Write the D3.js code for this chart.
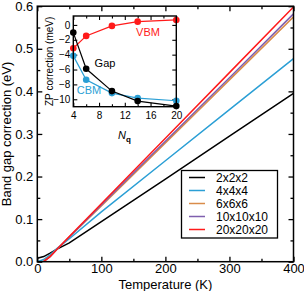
<!DOCTYPE html>
<html>
<head>
<meta charset="utf-8">
<script src="https://cdn.jsdelivr.net/npm/d3@7"></script>
<style>
  body { margin: 0; background: #fff; }
  text { font-family: "Liberation Sans", Arial, sans-serif; }
</style>
</head>
<body>
<div id="chart"></div>
<script>
// main panel: band gap correction vs temperature
const temps = [0, 10, 20, 30, 50, 100, 200, 300, 400]
const grid2 = [0.008, 0.012, 0.020, 0.029, 0.044, 0.094, 0.194, 0.295, 0.395]
const grid4 = [0.000, 0.005, 0.016, 0.030, 0.054, 0.117, 0.237, 0.357, 0.477]
const grid6 = [null, 0.002, 0.013, 0.028, 0.058, 0.131, 0.279, 0.427, 0.575]
const grid10 = [null, 0.001, 0.012, 0.028, 0.058, 0.133, 0.283, 0.432, 0.582]
const grid20 = [null, 0.000, 0.012, 0.028, 0.059, 0.136, 0.290, 0.444, 0.598]
const seriesNames = ['2x2x2', '4x4x4', '6x6x6', '10x10x10', '20x20x20']
const seriesColors = ['#000000', '#2b9fd5', '#d98c4a', '#7f5fae', '#ff1a1a']

// inset: zero-point correction vs Nq
const nq = [4, 6, 10, 14, 20]
const vbm = [-3.13, -1.48, -0.13, 0.44, 0.67]
const cbm = [-4.16, -7.38, -9.17, -9.84, -10.2]
const gap = [-1.03, -5.9, -8.9, -10.25, -10.92]

const W = 304, H = 291
const svg = d3.select('#chart').append('svg').attr('width', W).attr('height', H)

const x = d3.scaleLinear().domain([0, 400]).range([37.3, 293.5])
const y = d3.scaleLinear().domain([0, 0.6]).range([261.7, 6.2])

// clip for data lines
svg.append('clipPath').attr('id', 'clip')
    .append('rect')
    .attr('x', x(0)).attr('y', y(0.6))
    .attr('width', x(400) - x(0)).attr('height', y(0) - y(0.6))

const line = d3.line()
    .defined((d) => d[1] != null)
    .x((d) => x(d[0]))
    .y((d) => y(d[1]))

const allSeries = [grid2, grid4, grid6, grid10, grid20]
svg.append('g').attr('clip-path', 'url(#clip)')
    .selectAll('path')
    .data(allSeries)
    .enter()
    .append('path')
    .attr('d', (s) => line(temps.map((t, i) => [t, s[i]])))
    .attr('fill', 'none')
    .attr('stroke', (_, i) => seriesColors[i])
    .attr('stroke-width', 1.5)

// axes with inward ticks
const axisG = svg.append('g')
const drawTicks = (g, axis, transform) => g.append('g').attr('transform', transform).call(axis)

const yTicks = d3.range(0, 0.61, 0.1)
const yMinor = d3.range(0.05, 0.6, 0.1)
const xTicks = d3.range(0, 401, 100)
const xMinor = d3.range(50, 400, 100)

drawTicks(axisG, d3.axisLeft(y).tickValues(yTicks).tickSize(-5).tickPadding(4).tickFormat(d3.format('.1f')), `translate(${x(0)},0)`)
drawTicks(axisG, d3.axisLeft(y).tickValues(yMinor).tickSize(-3).tickFormat(''), `translate(${x(0)},0)`)
drawTicks(axisG, d3.axisRight(y).tickValues(yTicks).tickSize(-5).tickFormat(''), `translate(${x(400)},0)`)
drawTicks(axisG, d3.axisRight(y).tickValues(yMinor).tickSize(-3).tickFormat(''), `translate(${x(400)},0)`)
drawTicks(axisG, d3.axisBottom(x).tickValues(xTicks).tickSize(-5).tickPadding(2.5).tickFormat(d3.format('d')), `translate(0,${y(0)})`)
drawTicks(axisG, d3.axisBottom(x).tickValues(xMinor).tickSize(-3).tickFormat(''), `translate(0,${y(0)})`)
drawTicks(axisG, d3.axisTop(x).tickValues(xTicks).tickSize(-5).tickFormat(''), `translate(0,${y(0.6)})`)
drawTicks(axisG, d3.axisTop(x).tickValues(xMinor).tickSize(-3).tickFormat(''), `translate(0,${y(0.6)})`)

axisG.selectAll('.domain').remove()
axisG.selectAll('line').attr('stroke', '#000').attr('stroke-width', 1.3)
axisG.selectAll('text').attr('font-size', 13).attr('fill', '#000')
    .style('font-family', '"Liberation Sans", Arial, sans-serif')

svg.append('rect')
    .attr('x', x(0)).attr('y', y(0.6))
    .attr('width', x(400) - x(0)).attr('height', y(0) - y(0.6))
    .attr('fill', 'none').attr('stroke', '#000').attr('stroke-width', 1.5)

svg.append('text')
    .attr('x', (x(0) + x(400)) / 2).attr('y', 289)
    .attr('text-anchor', 'middle').attr('font-size', 13)
    .text('Temperature (K)')

svg.append('text')
    .attr('transform', `translate(11,${(y(0) + y(0.6)) / 2}) rotate(-90)`)
    .attr('text-anchor', 'middle').attr('font-size', 13)
    .text('Band gap correction (eV)')

// legend
const legend = svg.append('g')
legend.append('rect')
    .attr('x', 181.5).attr('y', 170.5).attr('width', 96).attr('height', 67.5)
    .attr('fill', '#fff').attr('stroke', '#000').attr('stroke-width', 1.3)
seriesNames.forEach((name, i) => {
  const yy = 177.5 + i * 13
  legend.append('line')
      .attr('x1', 189).attr('x2', 205).attr('y1', yy).attr('y2', yy)
      .attr('stroke', seriesColors[i]).attr('stroke-width', 1.5)
  legend.append('text')
      .attr('x', 216).attr('y', yy + 4.2).attr('font-size', 12)
      .text(name)
})

// inset
const ix = d3.scaleLinear().domain([4, 20]).range([73.3, 176.3])
const iy = d3.scaleLinear().domain([-11, 1.2]).range([106.7, 16])
const inset = svg.append('g')
inset.append('rect')
    .attr('x', ix(4)).attr('y', iy(1.2))
    .attr('width', ix(20) - ix(4)).attr('height', iy(-11) - iy(1.2))
    .attr('fill', '#fff')

const iAxes = inset.append('g')
const iyTicks = [0, -2, -4, -6, -8, -10]
const ixTicks = [4, 8, 12, 16, 20]
const ixMinor = [6, 10, 14, 18]
drawTicks(iAxes, d3.axisLeft(iy).tickValues(iyTicks).tickSize(-4).tickPadding(3).tickFormat(d3.format('d')), `translate(${ix(4)},0)`)
drawTicks(iAxes, d3.axisRight(iy).tickValues(iyTicks).tickSize(-4).tickFormat(''), `translate(${ix(20)},0)`)
drawTicks(iAxes, d3.axisBottom(ix).tickValues(ixTicks).tickSize(-4).tickPadding(5).tickFormat(d3.format('d')), `translate(0,${iy(-11)})`)
drawTicks(iAxes, d3.axisBottom(ix).tickValues(ixMinor).tickSize(-2.5).tickFormat(''), `translate(0,${iy(-11)})`)
drawTicks(iAxes, d3.axisTop(ix).tickValues(ixTicks).tickSize(-4).tickFormat(''), `translate(0,${iy(1.2)})`)
drawTicks(iAxes, d3.axisTop(ix).tickValues(ixMinor).tickSize(-2.5).tickFormat(''), `translate(0,${iy(1.2)})`)
iAxes.selectAll('.domain').remove()
iAxes.selectAll('line').attr('stroke', '#000').attr('stroke-width', 1.1)
iAxes.selectAll('text').attr('font-size', 10).attr('fill', '#000')
    .style('font-family', '"Liberation Sans", Arial, sans-serif')

const iLine = d3.line().x((d) => ix(d[0])).y((d) => iy(d[1]))
const insetSeries = [
  {vals: vbm, color: '#ff1a1a'},
  {vals: cbm, color: '#2b9fd5'},
  {vals: gap, color: '#000000'},
]
insetSeries.forEach((s) => {
  const pts = nq.map((n, i) => [n, s.vals[i]])
  inset.append('path')
      .attr('d', iLine(pts))
      .attr('fill', 'none').attr('stroke', s.color).attr('stroke-width', 1.2)
  inset.selectAll(null)
      .data(pts)
      .enter()
      .append('circle')
      .attr('cx', (d) => ix(d[0])).attr('cy', (d) => iy(d[1]))
      .attr('r', 3.3).attr('fill', s.color)
})

inset.append('rect')
    .attr('x', ix(4)).attr('y', iy(1.2))
    .attr('width', ix(20) - ix(4)).attr('height', iy(-11) - iy(1.2))
    .attr('fill', 'none').attr('stroke', '#000').attr('stroke-width', 1.4)

inset.append('text').attr('x', 148).attr('y', 36).attr('text-anchor', 'middle')
    .attr('font-size', 11).attr('fill', '#ff1a1a').text('VBM')
inset.append('text').attr('x', 105).attr('y', 67).attr('text-anchor', 'middle')
    .attr('font-size', 11).attr('fill', '#000').text('Gap')
inset.append('text').attr('x', 89).attr('y', 94).attr('text-anchor', 'middle')
    .attr('font-size', 11).attr('fill', '#2b9fd5').text('CBM')

inset.append('text')
    .attr('transform', `translate(53,${(iy(-11) + iy(1.2)) / 2}) rotate(-90)`)
    .attr('text-anchor', 'middle').attr('font-size', 10)
    .text('ZP correction (meV)')

const nqLabel = inset.append('text')
    .attr('x', 124.5).attr('y', 139).attr('text-anchor', 'middle').attr('font-size', 11)
nqLabel.append('tspan').attr('font-style', 'italic').text('N')
nqLabel.append('tspan').attr('font-weight', 'bold').attr('font-size', 8).attr('dy', 2.5).text('q')
</script>
</body>
</html>
